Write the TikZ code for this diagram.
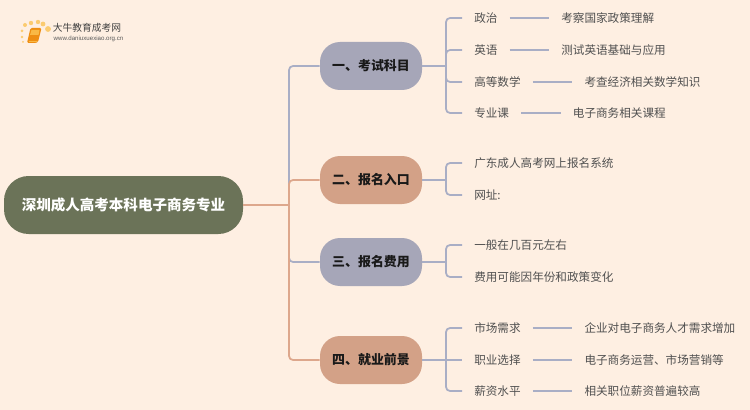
\documentclass[tikz,border=0pt]{standalone}
\usepackage{fontspec}
\setmainfont{Noto Sans CJK SC}
\newfontfamily\urlfont{Liberation Sans}
\usetikzlibrary{positioning}
\definecolor{paper}{HTML}{FEEFE2}
\definecolor{rootgreen}{HTML}{6B7358}
\definecolor{slate}{HTML}{A6A6B8}
\definecolor{clay}{HTML}{D3A187}
\definecolor{slateline}{HTML}{A9AEC5}
\definecolor{clayline}{HTML}{DDA78C}
\definecolor{leafgrey}{HTML}{505050}
\definecolor{logodot}{HTML}{FBCB70}
\definecolor{logobook}{HTML}{EE8E12}
\definecolor{logopage}{HTML}{F9B945}
\tikzset{
  rootbox/.style={fill=rootgreen,text=white,rounded corners=18.5pt,minimum width=179.25pt,minimum height=43.5pt,inner sep=0pt,text height=9.6pt,text depth=1.2pt,font=\fontsize{10.9}{12}\selectfont\bfseries},
  topicbox/.style={rounded corners=15pt,minimum width=76.5pt,minimum height=36pt,inner sep=0pt,text height=8.7pt,text depth=1.3pt,text=black!90,font=\fontsize{9.7}{11}\selectfont\bfseries},
  leaf/.style={anchor=west,inner xsep=9pt,inner ysep=0pt,text height=8.4pt,text depth=1.6pt,text=leafgrey,font=\fontsize{8.7}{10}\selectfont},
  slink/.style={draw=slateline,line width=1.3pt,rounded corners=3pt},
  clink/.style={draw=clayline,line width=1.3pt,rounded corners=3pt},
}
\begin{document}
\begin{tikzpicture}[x=0.75pt,y=-0.75pt]
\fill [paper] (0,0) rectangle (750,410);
\useasboundingbox (0,0) rectangle (750,410);

% logo
\foreach \px/\py/\rad in {25/25/2,31/23/2.2,38/22/2.2,43/24/2.4,48/29/2.9,22/31/1.5,22/37/1.3,23/42/1}
  \fill [logodot] (\px,\py) circle (\rad);
\fill [logobook,rounded corners=1pt] (30.5,28) -- (41.5,28) -- (38,42) -- (36,43) -- (27,43) -- cycle;
\fill [logopage] (31.5,30) -- (39.5,30) -- (38.5,35) -- (30,35) -- cycle;
\draw [logopage,line width=0.5pt] (28.5,41) -- (36.5,41);
\node (logotext) at (87,28) [text=black!75,font=\fontsize{7.3}{8}\selectfont] {大牛教育成考网};
\node (logourl) at (88.5,39) [text=black!65,font=\urlfont\fontsize{4.6}{5}\selectfont] {www.daniuxuexiao.org.cn};

% main nodes
\node (root) at (123.5,205) [rootbox] {深圳成人高考本科电子商务专业};
\node (exam) at (371,66) [topicbox,fill=slate] {一、考试科目};
\node (entry) at (371,180) [topicbox,fill=clay] {二、报名入口};
\node (fee) at (371,262) [topicbox,fill=slate] {三、报名费用};
\node (job) at (371,360) [topicbox,fill=clay] {四、就业前景};

\coordinate (trunk) at (289,205);
\draw [slink] (trunk) |- (exam.west);
\draw [slink] (trunk) |- (fee.west);
\draw [clink] (trunk) |- (entry.west);
\draw [clink] (trunk) |- (job.west);
\draw [clink] (root.east) -- (trunk);

% exam
\node (zz) at (462,18) [leaf] {政治};
\node (zzt) [leaf,right=29.5pt of zz] {考察国家政策理解};
\node (yy) at (462,50) [leaf] {英语};
\node (yyt) [leaf,right=29.5pt of yy] {测试英语基础与应用};
\node (gs) at (462,82) [leaf] {高等数学};
\node (gst) [leaf,right=29.5pt of gs] {考查经济相关数学知识};
\node (zy) at (462,113) [leaf] {专业课};
\node (zyt) [leaf,right=29.5pt of zy] {电子商务相关课程};
\coordinate (examb) at (446,66);
\draw [slink] (exam.east) -- (examb);
\draw [slink] (examb) |- (zz.west);
\draw [slink] (examb) |- (yy.west);
\draw [slink] (examb) |- (gs.west);
\draw [slink] (examb) |- (zy.west);
\draw [slink] (zz) -- (zzt);
\draw [slink] (yy) -- (yyt);
\draw [slink] (gs) -- (gst);
\draw [slink] (zy) -- (zyt);

% entry
\node (gd) at (462,163) [leaf] {广东成人高考网上报名系统};
\node (wz) at (462,195) [leaf] {网址:};
\coordinate (entryb) at (446,180);
\draw [slink] (entry.east) -- (entryb);
\draw [slink] (entryb) |- (gd.west);
\draw [slink] (entryb) |- (wz.west);

% fee
\node (yb) at (462,245) [leaf] {一般在几百元左右};
\node (fy) at (462,277) [leaf] {费用可能因年份和政策变化};
\coordinate (feeb) at (446,262);
\draw [slink] (fee.east) -- (feeb);
\draw [slink] (feeb) |- (yb.west);
\draw [slink] (feeb) |- (fy.west);

% job
\node (sc) at (462,328) [leaf] {市场需求};
\node (sct) [leaf,right=29.5pt of sc] {企业对电子商务人才需求增加};
\node (zx) at (462,360) [leaf] {职业选择};
\node (zxt) [leaf,right=29.5pt of zx] {电子商务运营、市场营销等};
\node (xz) at (462,391) [leaf] {薪资水平};
\node (xzt) [leaf,right=29.5pt of xz] {相关职位薪资普遍较高};
\coordinate (jobb) at (446,360);
\draw [slink] (job.east) -- (zx.west);
\draw [slink] (jobb) |- (sc.west);
\draw [slink] (jobb) |- (xz.west);
\draw [slink] (sc) -- (sct);
\draw [slink] (zx) -- (zxt);
\draw [slink] (xz) -- (xzt);
\end{tikzpicture}
\end{document}
